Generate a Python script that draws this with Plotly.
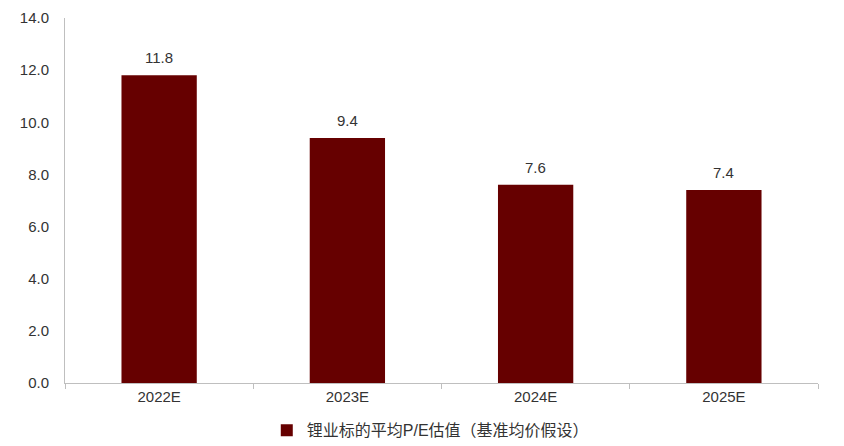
import plotly.graph_objects as go

years = ['2022E', '2023E', '2024E', '2025E']
pe_values = [11.8, 9.4, 7.6, 7.4]
series_name = '锂业标的平均P/E估值（基准均价假设）'
y_ticks = [0, 2, 4, 6, 8, 10, 12, 14]

fig = go.Figure()
fig.add_trace(go.Bar(
    x=years,
    y=pe_values,
    name=series_name,
    width=0.4,
    marker=dict(color='#660000', line=dict(width=0)),
))

# value labels above each bar
for yr, v in zip(years, pe_values):
    fig.add_annotation(
        x=yr, y=v, text=f'{v:.1f}', showarrow=False,
        yanchor='bottom', yshift=7,
        font=dict(size=15, color='#333333'),
    )

# page body has an 8px margin, so the figure is a bit smaller than the window
fig.update_layout(
    width=828,
    height=430,
    margin=dict(l=57, r=18, t=10, b=55, autoexpand=False),
    paper_bgcolor='white',
    plot_bgcolor='white',
    font=dict(family='Liberation Sans, Arial, Noto Sans CJK SC', size=15, color='#333333'),
    showlegend=True,
    legend=dict(
        orientation='h',
        xref='container', x=0.51, xanchor='center',
        yref='container', y=0.018, yanchor='middle',
        font=dict(size=16, family='Liberation Sans, Noto Sans CJK SC', color='#333333'),
        itemwidth=30,
    ),
    xaxis=dict(
        showline=True, linecolor='#bfbfbf', linewidth=1,
        ticks='outside', tickson='boundaries', ticklen=5, tickcolor='#bfbfbf',
        showgrid=False, automargin=False,
    ),
    yaxis=dict(
        range=[0, 14],
        tickvals=y_ticks,
        tickformat='.1f',
        showline=True, linecolor='#bfbfbf', linewidth=1,
        showgrid=False, zeroline=False,
        ticks='', ticklabelstandoff=12, automargin=False,
    ),
)

fig.write_html("out.html")
